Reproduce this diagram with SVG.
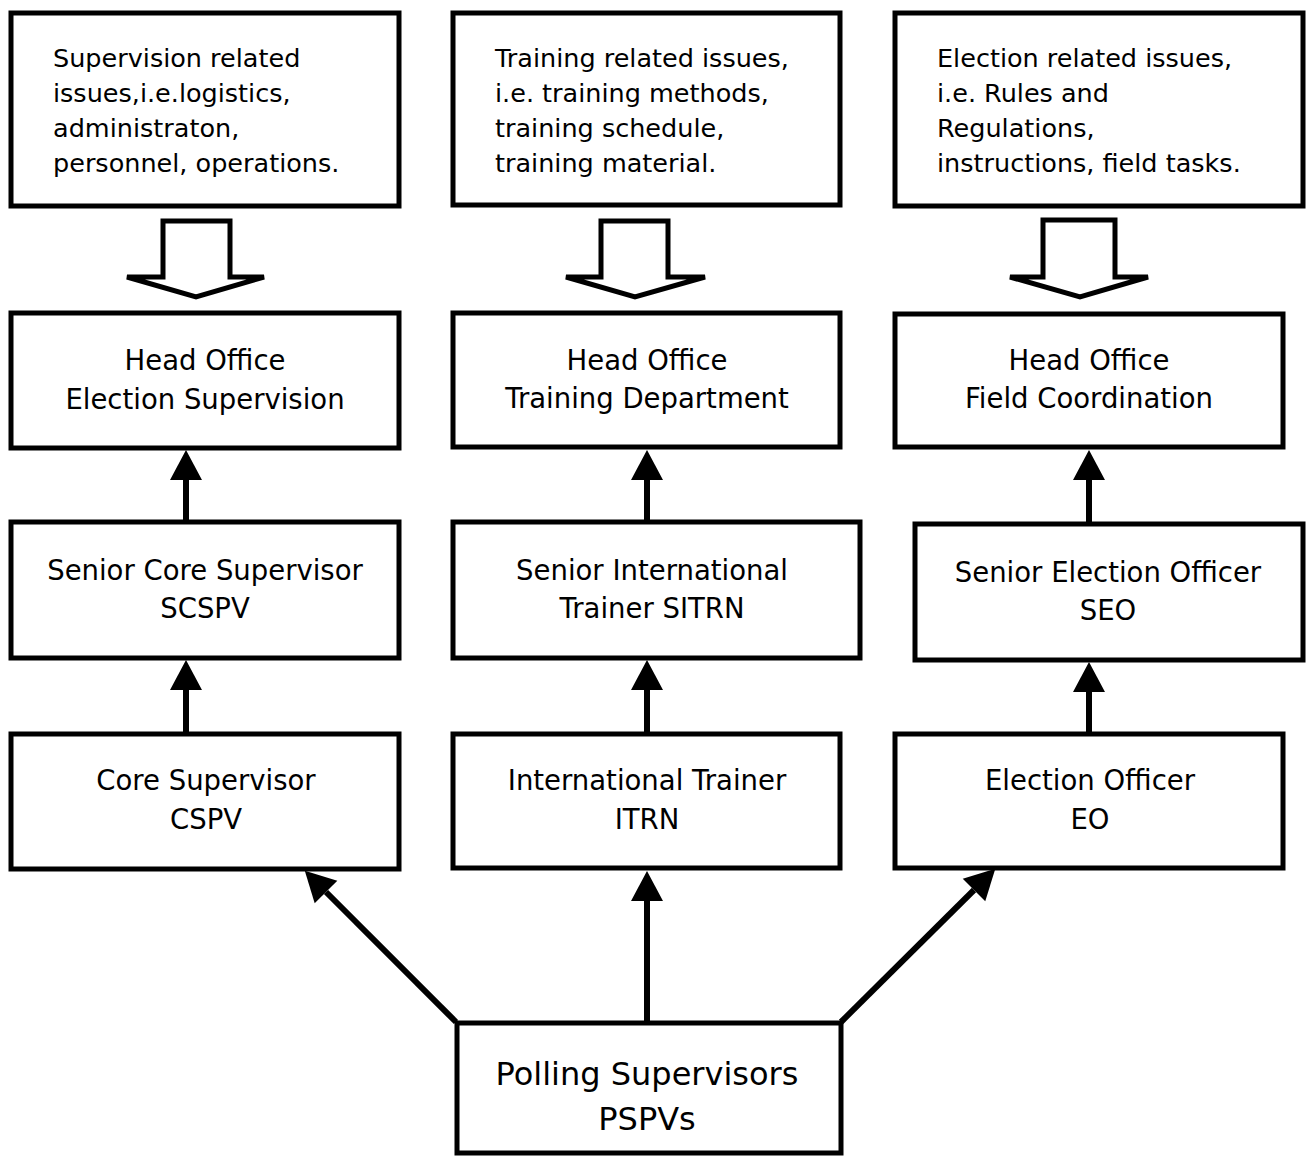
<svg xmlns="http://www.w3.org/2000/svg" width="1308" height="1156" viewBox="0 0 1308 1156">
<style>
.box{fill:#fff;stroke:#000;stroke-width:5}
.blk{fill:#fff;stroke:#000;stroke-width:5;stroke-linejoin:miter}
.t{font-family:"DejaVu Sans",Verdana,sans-serif;fill:#000}
.s{font-size:25.5px}
.m{font-size:27.5px;text-anchor:middle}
.l{font-size:32px;text-anchor:middle}
.c{fill:none;stroke:#000;stroke-width:6}
</style>
<defs>
<marker id="ah" markerUnits="userSpaceOnUse" markerWidth="32" markerHeight="34" refX="0" refY="16" orient="auto" viewBox="0 0 32 32" overflow="visible">
<path d="M0,0 L30,16 L0,32 z" fill="#000"/>
</marker>
</defs>
<rect width="1308" height="1156" fill="#fff"/>

<g id="issues-supervision">
<rect class="box" x="11" y="13" width="388" height="193"/>
<text class="t s" x="53" y="67">Supervision related</text>
<text class="t s" x="53" y="102">issues,i.e.logistics,</text>
<text class="t s" x="53" y="137">administraton,</text>
<text class="t s" x="53" y="172">personnel, operations.</text>
</g>
<g id="issues-training">
<rect class="box" x="453" y="13" width="387" height="192"/>
<text class="t s" x="495" y="67">Training related issues,</text>
<text class="t s" x="495" y="102">i.e. training methods,</text>
<text class="t s" x="495" y="137">training schedule,</text>
<text class="t s" x="495" y="172">training material.</text>
</g>
<g id="issues-election">
<rect class="box" x="895" y="13" width="408" height="193"/>
<text class="t s" x="937" y="67">Election related issues,</text>
<text class="t s" x="937" y="102">i.e. Rules and</text>
<text class="t s" x="937" y="137">Regulations,</text>
<text class="t s" x="937" y="172">instructions, field tasks.</text>
</g>

<g id="flow-arrows">
<polygon class="blk" points="163,221 230,221 230,277 264,277 196,297 127,277 163,277"/>
<polygon class="blk" points="601,221 668,221 668,277 705,277 635,297 566,277 601,277"/>
<polygon class="blk" points="1043,220 1115,220 1115,277 1148,277 1080,297 1010,277 1043,277"/>
</g>

<g id="ho-supervision">
<rect class="box" x="11" y="313" width="388" height="135"/>
<text class="t m" x="205" y="370">Head Office</text>
<text class="t m" x="205" y="409">Election Supervision</text>
</g>
<g id="ho-training">
<rect class="box" x="453" y="313" width="387" height="134"/>
<text class="t m" x="647" y="370">Head Office</text>
<text class="t m" x="647" y="408">Training Department</text>
</g>
<g id="ho-field">
<rect class="box" x="895" y="314" width="388" height="133"/>
<text class="t m" x="1089" y="370">Head Office</text>
<text class="t m" x="1089" y="408">Field Coordination</text>
</g>

<g id="scspv">
<rect class="box" x="11" y="522" width="388" height="136"/>
<text class="t m" x="205" y="580">Senior Core Supervisor</text>
<text class="t m" x="205" y="618">SCSPV</text>
</g>
<g id="sitrn">
<rect class="box" x="453" y="522" width="407" height="136"/>
<text class="t m" x="652" y="580">Senior International</text>
<text class="t m" x="652" y="618">Trainer SITRN</text>
</g>
<g id="seo">
<rect class="box" x="915" y="524" width="388" height="136"/>
<text class="t m" x="1108" y="582">Senior Election Officer</text>
<text class="t m" x="1108" y="620">SEO</text>
</g>

<g id="cspv">
<rect class="box" x="11" y="734" width="388" height="135"/>
<text class="t m" x="206" y="790">Core Supervisor</text>
<text class="t m" x="206" y="829">CSPV</text>
</g>
<g id="itrn">
<rect class="box" x="453" y="734" width="387" height="134"/>
<text class="t m" x="647" y="790">International Trainer</text>
<text class="t m" x="647" y="829">ITRN</text>
</g>
<g id="eo">
<rect class="box" x="895" y="734" width="388" height="134"/>
<text class="t m" x="1090" y="790">Election Officer</text>
<text class="t m" x="1090" y="829">EO</text>
</g>

<g id="pspv">
<rect class="box" x="457" y="1023" width="384" height="130"/>
<text class="t l" x="647" y="1085">Polling Supervisors</text>
<text class="t l" x="647" y="1130">PSPVs</text>
</g>

<g id="connectors">
<line class="c" x1="186" y1="520" x2="186" y2="480" marker-end="url(#ah)"/>
<line class="c" x1="186" y1="732" x2="186" y2="690" marker-end="url(#ah)"/>
<line class="c" x1="647" y1="520" x2="647" y2="480" marker-end="url(#ah)"/>
<line class="c" x1="647" y1="732" x2="647" y2="690" marker-end="url(#ah)"/>
<line class="c" x1="1089" y1="522" x2="1089" y2="480" marker-end="url(#ah)"/>
<line class="c" x1="1089" y1="732" x2="1089" y2="692" marker-end="url(#ah)"/>
<line class="c" x1="647" y1="1021" x2="647" y2="901" marker-end="url(#ah)"/>
<line class="c" x1="456" y1="1022" x2="326" y2="892" marker-end="url(#ah)"/>
<line class="c" x1="841" y1="1022" x2="974" y2="890" marker-end="url(#ah)"/>
</g>
</svg>
